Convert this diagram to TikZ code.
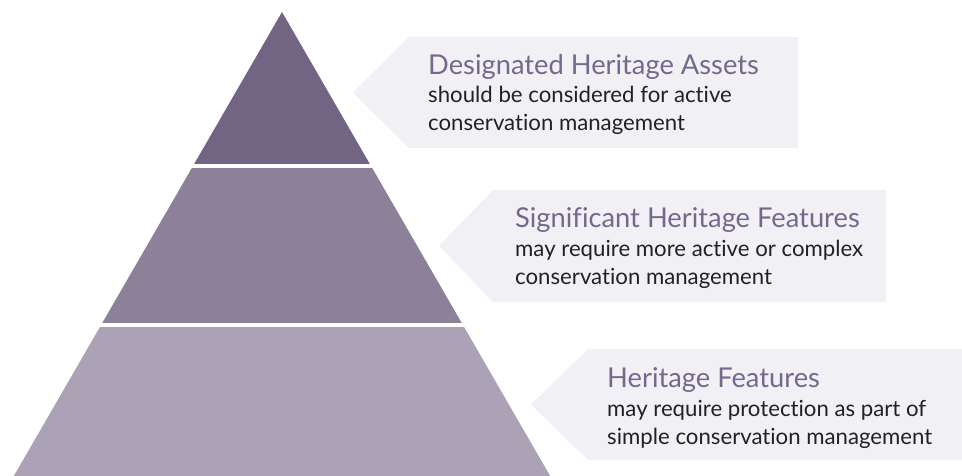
\documentclass[tikz,border=0pt]{standalone}
\usepackage{fontspec}
\setmainfont[Ligatures=NoCommon]{Lato}
\definecolor{tierA}{RGB}{114,101,131}
\definecolor{tierB}{RGB}{140,129,153}
\definecolor{tierC}{RGB}{171,162,181}
\definecolor{boxfill}{RGB}{241,240,245}
\definecolor{titlecol}{RGB}{118,104,140}
\definecolor{bodycol}{RGB}{34,34,34}
\tikzset{
  titletext/.style={anchor=base west, inner sep=0pt, text=titlecol, font=\fontsize{27.3}{30}\selectfont},
  bodytext/.style={anchor=base west, inner sep=0pt, text=bodycol, font=\fontsize{22.2}{28}\selectfont},
  infobox/.style={fill=boxfill, draw=none}
}
\begin{document}
\begin{tikzpicture}[x=1pt,y=-1pt]
\useasboundingbox (0,0) rectangle (962,476);
% pyramid
\coordinate (apex) at (282,12);
\coordinate (bl) at (13.8,476);
\coordinate (br) at (550.2,476);
\begin{scope}
\clip (apex) -- (bl) -- (br) -- cycle;
\fill[tierA] (0,0) rectangle (962,164);
\fill[tierB] (0,168) rectangle (962,323);
\fill[tierC] (0,327) rectangle (962,476);
\end{scope}
% boxes
\fill[infobox] (353,92.5) -- (409,37) -- (798,37) -- (798,148) -- (409,148) -- cycle;
\fill[infobox] (439,246) -- (493,190) -- (886,190) -- (886,302) -- (493,302) -- cycle;
\fill[infobox] (531,404.5) -- (588,349) -- (962,349) -- (962,460) -- (588,460) -- cycle;
% texts
\node[titletext] (t1) at (428,75) {Designated Heritage Assets};
\node[bodytext] (b1a) at (428,103) {should be considered for active};
\node[bodytext] (b1b) at (428,131) {conservation management};
\node[titletext] (t2) at (515,228) {Significant Heritage Features};
\node[bodytext] (b2a) at (515,256) {may require more active or complex};
\node[bodytext] (b2b) at (515,284) {conservation management};
\node[titletext] (t3) at (607,387) {Heritage Features};
\node[bodytext] (b3a) at (607,416) {may require protection as part of};
\node[bodytext] (b3b) at (607,444) {simple conservation management};
\end{tikzpicture}
\end{document}
